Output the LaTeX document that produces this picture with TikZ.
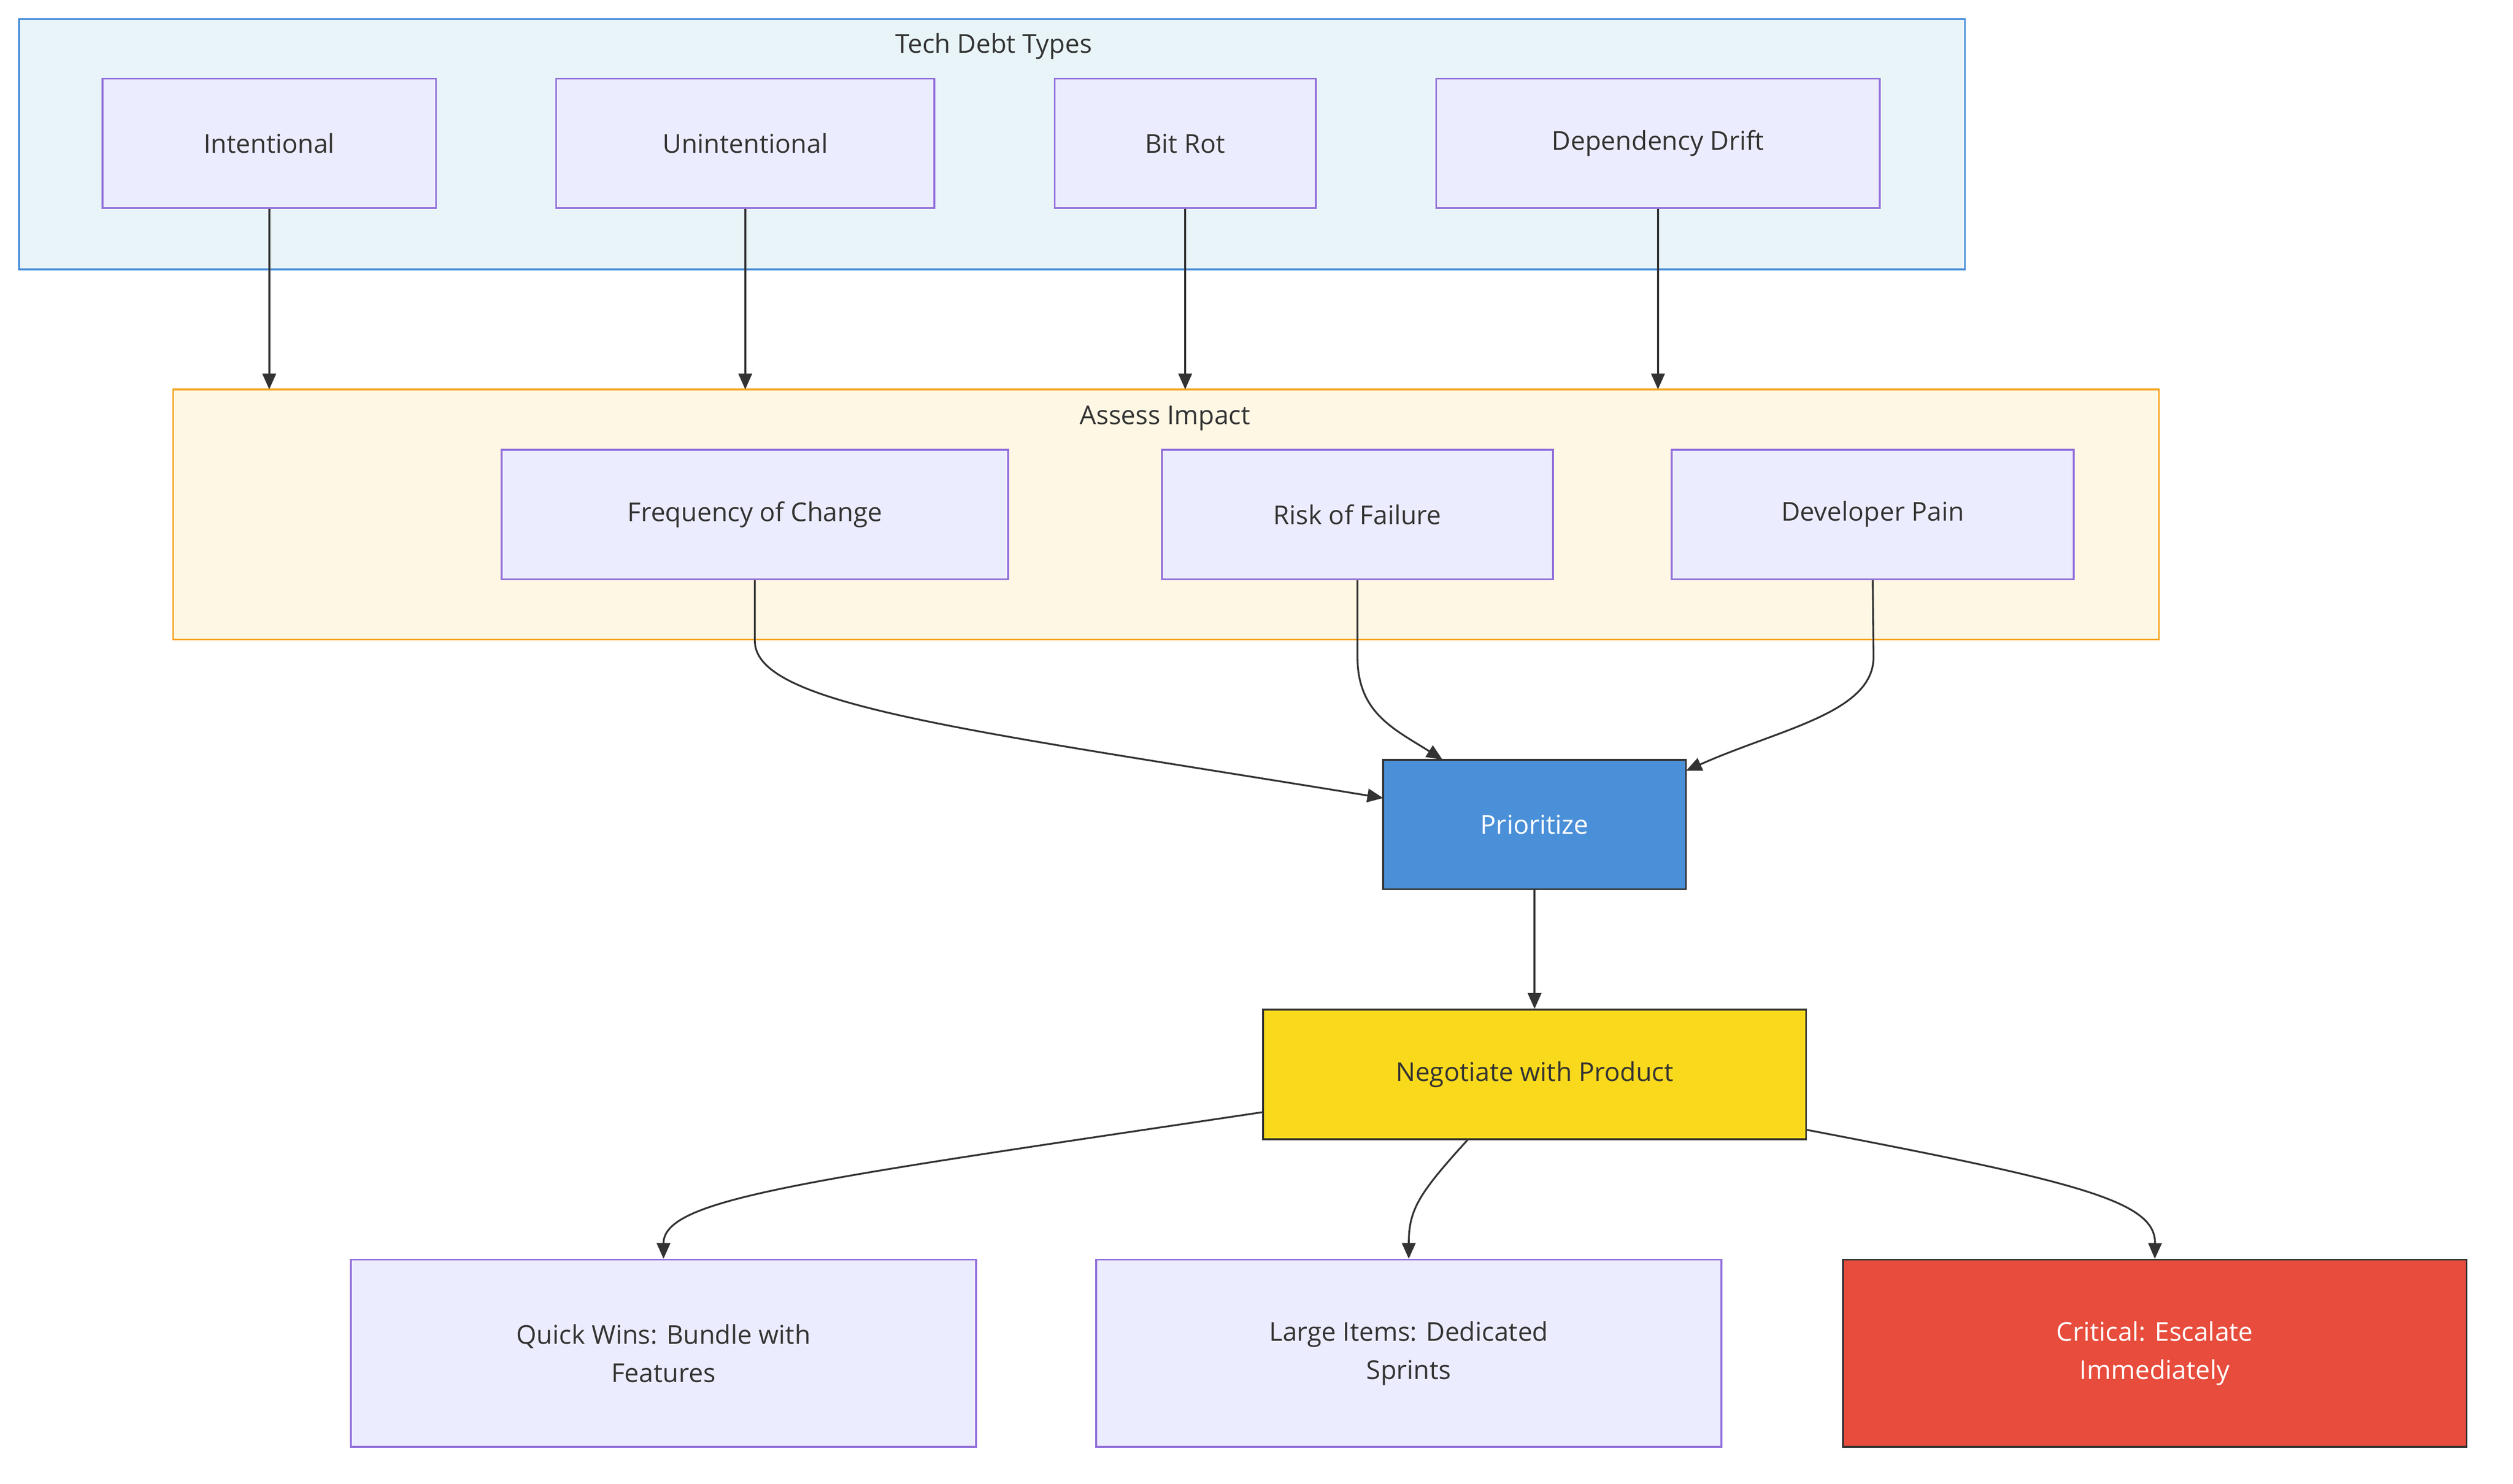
\documentclass[tikz,border=0pt]{standalone}
\usepackage{fontspec}
\setmainfont{Open Sans}
\usetikzlibrary{arrows.meta,positioning}
\definecolor{boxfill}{HTML}{ECECFF}
\definecolor{boxline}{HTML}{9370DB}
\definecolor{grpblue}{HTML}{E8F4F8}
\definecolor{grpblueline}{HTML}{4A90D9}
\definecolor{grpyellow}{HTML}{FEF7E4}
\definecolor{grpyellowline}{HTML}{F5A623}
\definecolor{prioblue}{HTML}{4A90D9}
\definecolor{negyellow}{HTML}{F8D91C}
\definecolor{critred}{HTML}{E74C3C}
\definecolor{linkcol}{HTML}{333333}
\begin{document}
\begin{tikzpicture}[x=0.025cm, y=-0.025cm,
    every node/.style={font=\fontsize{11.5}{17}\selectfont, text=linkcol},
    debtbox/.style={draw=boxline, fill=boxfill, line width=0.8pt, minimum height=2.02cm, align=center},
    group/.style={draw, line width=0.8pt},
    link/.style={draw=linkcol, line width=0.8pt, -{Triangle[length=7pt,width=6pt]}}]
    \useasboundingbox (0,0) rectangle (1568,926);

    % Groups
    \draw[group, draw=grpblueline, fill=grpblue] (12,12) rectangle (1226,168);
    \node (g1) at (620,29) {Tech Debt Types};
    \draw[group, draw=grpyellowline, fill=grpyellow] (108,243) rectangle (1347,399);
    \node (g2) at (727,261) {Assess Impact};

    % Tech debt types
    \node[debtbox, minimum width=5.2cm] (intent) at (168,89.5) {Intentional};
    \node[debtbox, minimum width=5.9cm] (unintent) at (465,89.5) {Unintentional};
    \node[debtbox, minimum width=4.07cm] (bitrot) at (739.5,89.5) {Bit Rot};
    \node[debtbox, minimum width=6.92cm] (drift) at (1034.5,89.5) {Dependency Drift};

    % Impact
    \node[debtbox, minimum width=7.9cm] (freq) at (471,321) {Frequency of Change};
    \node[debtbox, minimum width=6.1cm] (risk) at (847,321) {Risk of Failure};
    \node[debtbox, minimum width=6.27cm] (pain) at (1168.5,321) {Developer Pain};

    % Decision
    \node[debtbox, draw=linkcol, fill=prioblue, text=white, minimum width=4.72cm] (prio) at (957.5,514.5) {Prioritize};
    \node[debtbox, draw=linkcol, fill=negyellow, minimum width=8.47cm] (nego) at (957.5,670.5) {Negotiate with Product};

    % Outcomes
    \node[debtbox, minimum width=9.75cm, minimum height=2.92cm] (quick) at (414,844.5) {Quick Wins: Bundle with\\Features};
    \node[debtbox, minimum width=9.75cm, minimum height=2.92cm] (large) at (879,844.5) {Large Items: Dedicated\\Sprints};
    \node[debtbox, draw=linkcol, fill=critred, text=white, minimum width=9.72cm, minimum height=2.92cm] (crit) at (1344.5,844.5) {Critical: Escalate\\Immediately};

    % Edge ends on the impact group
    \coordinate (in1) at (168,243);
    \coordinate (in2) at (465,243);
    \coordinate (in3) at (739.5,243);
    \coordinate (in4) at (1034.5,243);

    % Edges
    \draw[link] (intent) -- (in1);
    \draw[link] (unintent) -- (in2);
    \draw[link] (bitrot) -- (in3);
    \draw[link] (drift) -- (in4);

    \draw[link] (freq.south) -- (471,400) .. controls (471,440) and (600,455) .. (863,498);
    \draw[link] (risk.south) -- (847,410) .. controls (847,445) and (870,455) .. (900,474);
    \draw[link] (pain.south) -- (1169,410) .. controls (1169,445) and (1110,455) .. (1052,481);
    \draw[link] (prio) -- (nego);

    \draw[link] (788,694) .. controls (500,737) and (414,748) .. (quick.north);
    \draw[link] (916,711) .. controls (885,745) and (879,755) .. (large.north);
    \draw[link] (1127,705) .. controls (1300,738) and (1345,750) .. (crit.north);
\end{tikzpicture}
\end{document}
